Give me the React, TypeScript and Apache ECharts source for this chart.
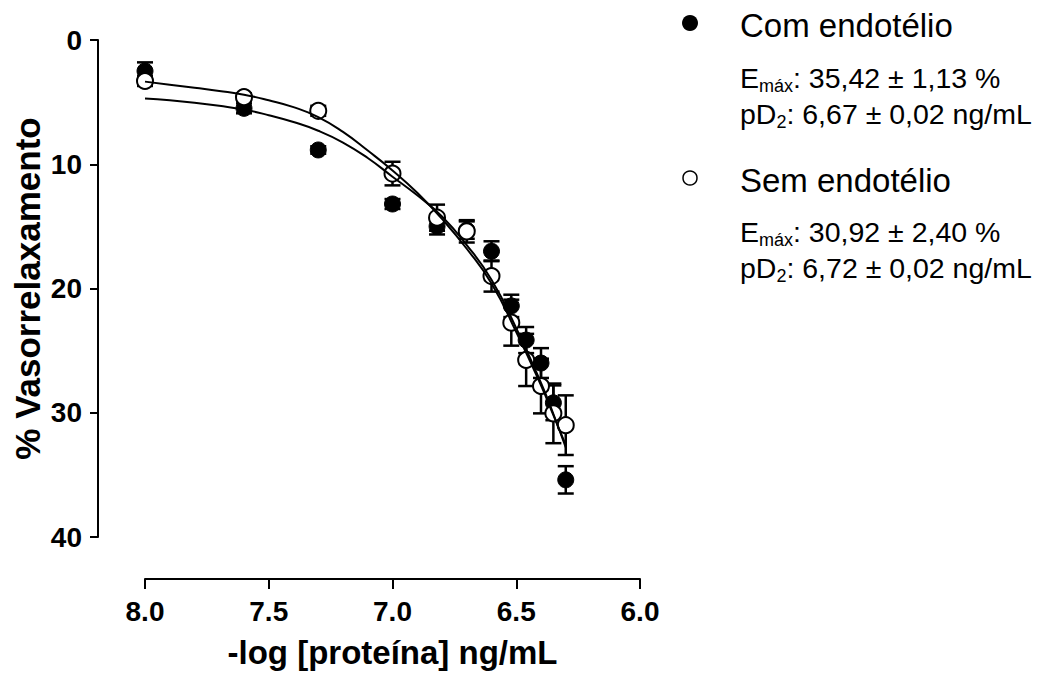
import React, { useEffect, useRef } from "react";
import * as echarts from "echarts";

const FONT = "'Liberation Sans', Arial, sans-serif";

// -log [proteína] doses
const doses = [8.0, 7.6, 7.3, 7.0, 6.82, 6.7, 6.6, 6.52, 6.46, 6.4, 6.35, 6.3];
// Com endotélio (filled)
const comMean = [2.5, 5.5, 8.85, 13.2, 15.0, 15.3, 17.0, 21.4, 24.15, 26.0, 29.2, 35.4];
const comErr = [0.7, 0.4, 0.3, 0.4, 0.65, 0.7, 0.8, 0.9, 1.05, 1.2, 1.4, 1.1];
// Sem endotélio (open)
const semMean = [3.3, 4.6, 5.7, 10.75, 14.3, 15.4, 19.0, 22.75, 25.75, 27.85, 30.05, 31.0];
const semErr = [0.4, 0.3, 0.4, 0.95, 1.05, 0.9, 1.25, 1.85, 2.1, 2.2, 2.4, 2.4];

// fitted curves
const curveX = [8.0, 7.9, 7.8, 7.7, 7.6, 7.5, 7.4, 7.3, 7.2, 7.1, 7.0, 6.9, 6.8, 6.7, 6.6, 6.5, 6.4, 6.35, 6.3];
const comCurve = [4.7, 4.85, 5.05, 5.3, 5.6, 6.05, 6.6, 7.3, 8.25, 9.5, 11.0, 12.5, 14.2, 16.5, 19.3, 23.2, 27.6, 30.1, 32.8];
const semCurve = [3.35, 3.6, 3.85, 4.1, 4.4, 4.85, 5.4, 6.2, 7.4, 8.9, 10.5, 12.3, 14.4, 16.8, 19.6, 23.5, 27.8, 30.2, 32.6];

const yTicks = [0, 10, 20, 30, 40];
const xTicks = [8.0, 7.5, 7.0, 6.5, 6.0];

const legendCom = { title: "Com endotélio", emax: ": 35,42 ± 1,13 %", pd2: ": 6,67 ± 0,02 ng/mL" };
const legendSem = { title: "Sem endotélio", emax: ": 30,92 ± 2,40 %", pd2: ": 6,72 ± 0,02 ng/mL" };

function errData(mean: number[], err: number[]) {
  return doses.map((d, i) => [d, mean[i] - err[i], mean[i] + err[i]]);
}

function errSeries(name: string, mean: number[], err: number[]) {
  return {
    type: "custom",
    name,
    z: 2,
    data: errData(mean, err),
    renderItem: (params: any, api: any) => {
      const x = api.value(0);
      const lo = api.coord([x, api.value(1)]);
      const hi = api.coord([x, api.value(2)]);
      const cw = 8;
      const st = { stroke: "#000", lineWidth: 2.5 };
      return {
        type: "group",
        children: [
          { type: "line", shape: { x1: lo[0], y1: lo[1], x2: hi[0], y2: hi[1] }, style: st },
          { type: "line", shape: { x1: lo[0] - cw, y1: lo[1], x2: lo[0] + cw, y2: lo[1] }, style: st },
          { type: "line", shape: { x1: hi[0] - cw, y1: hi[1], x2: hi[0] + cw, y2: hi[1] }, style: st },
        ],
      };
    },
  };
}

function richLine(prefix: string, sub: string, rest: string, x: number, y: number) {
  return {
    type: "text",
    x,
    y,
    style: {
      text: `{m|${prefix}}{s|${sub}}{m|${rest}}`,
      verticalAlign: "middle",
      align: "left",
      rich: {
        m: { fontSize: 28.5, fontFamily: FONT, color: "#000", lineHeight: 34, verticalAlign: "middle" },
        s: { fontSize: 18, fontFamily: FONT, color: "#000", lineHeight: 18, verticalAlign: "bottom" },
      },
    },
  };
}

export default function App() {
  const ref = useRef<HTMLDivElement>(null);
  useEffect(() => {
    if (!ref.current) return;
    const chart = echarts.init(ref.current, null, { renderer: "svg" });
    const axisLabelStyle = { fontSize: 28, fontWeight: "bold", color: "#000", fontFamily: FONT };
    chart.setOption({
      animation: false,
      backgroundColor: "#fff",
      grid: { left: 145, right: 397, top: 40, bottom: 136, outerBoundsMode: "none", containLabel: false },
      xAxis: {
        type: "value",
        min: xTicks[xTicks.length - 1],
        max: xTicks[0],
        interval: 0.5,
        inverse: true,
        offset: 42,
        name: "-log [proteína] ng/mL",
        nameLocation: "middle",
        nameGap: 57,
        nameTextStyle: { fontSize: 33, fontWeight: "bold", color: "#000", fontFamily: FONT },
        axisLine: { onZero: false, lineStyle: { color: "#000", width: 2 } },
        axisTick: { length: 10, lineStyle: { color: "#000", width: 2 } },
        axisLabel: { ...axisLabelStyle, margin: 18, formatter: (v: number) => v.toFixed(1) },
        splitLine: { show: false },
      },
      yAxis: {
        type: "value",
        min: yTicks[0],
        max: yTicks[yTicks.length - 1],
        interval: 10,
        inverse: true,
        offset: 47,
        name: "% Vasorrelaxamento",
        nameLocation: "middle",
        nameGap: 53,
        nameTextStyle: { fontSize: 35, fontWeight: "bold", color: "#000", fontFamily: FONT },
        axisLine: { onZero: false, lineStyle: { color: "#000", width: 2 } },
        axisTick: { length: 8, lineStyle: { color: "#000", width: 2 } },
        axisLabel: { ...axisLabelStyle, margin: 16 },
        splitLine: { show: false },
      },
      series: [
        errSeries("errCom", comMean, comErr),
        errSeries("errSem", semMean, semErr),
        {
          type: "scatter",
          name: "Com endotélio",
          z: 3,
          symbol: "circle",
          symbolSize: 16,
          itemStyle: { color: "#000", borderColor: "#000", borderWidth: 1, opacity: 1 },
          data: doses.map((d, i) => [d, comMean[i]]),
        },
        {
          type: "scatter",
          name: "Sem endotélio",
          z: 4,
          symbol: "circle",
          symbolSize: 16,
          itemStyle: { color: "#fff", borderColor: "#000", borderWidth: 2, opacity: 1 },
          data: doses.map((d, i) => [d, semMean[i]]),
        },
        {
          type: "line",
          name: "fitCom",
          z: 5,
          smooth: true,
          showSymbol: false,
          lineStyle: { color: "#000", width: 2 },
          data: curveX.map((x, i) => [x, comCurve[i]]),
        },
        {
          type: "line",
          name: "fitSem",
          z: 5,
          smooth: true,
          showSymbol: false,
          lineStyle: { color: "#000", width: 2 },
          data: curveX.map((x, i) => [x, semCurve[i]]),
        },
      ],
      graphic: [
        { type: "circle", shape: { cx: 690, cy: 23, r: 8 }, style: { fill: "#000" } },
        {
          type: "text",
          x: 740,
          y: 25,
          style: { text: legendCom.title, fontSize: 33, fontFamily: FONT, fill: "#000", verticalAlign: "middle" },
        },
        richLine("E", "máx", legendCom.emax, 740, 78),
        richLine("pD", "2", legendCom.pd2, 740, 114),
        { type: "circle", shape: { cx: 690, cy: 178, r: 7 }, style: { fill: "#fff", stroke: "#000", lineWidth: 1.5 } },
        {
          type: "text",
          x: 740,
          y: 180,
          style: { text: legendSem.title, fontSize: 33, fontFamily: FONT, fill: "#000", verticalAlign: "middle" },
        },
        richLine("E", "máx", legendSem.emax, 740, 232),
        richLine("pD", "2", legendSem.pd2, 740, 268),
      ],
    });
    return () => chart.dispose();
  }, []);
  return (
    <div
      ref={ref}
      style={{ position: "absolute", left: 0, top: 0, width: 1037, height: 673, background: "#fff" }}
    />
  );
}
